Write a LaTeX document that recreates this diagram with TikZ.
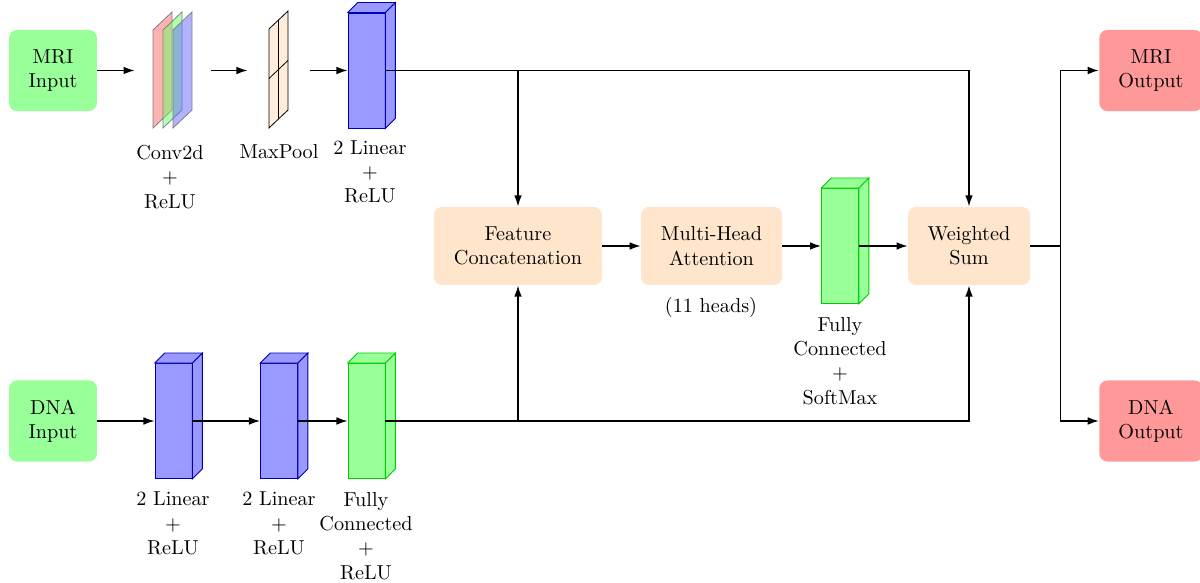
\documentclass[tikz,border=0pt]{standalone}
\usepackage{tikz}
\usetikzlibrary{arrows.meta,calc}

\tikzset{
  inbox/.style={rectangle, rounded corners=4pt, fill=green!40, align=center,
                minimum width=1.53cm, minimum height=1.41cm},
  outbox/.style={inbox, fill=red!40, minimum width=1.8cm},
  procbox/.style={rectangle, rounded corners=4pt, fill=orange!20, align=center,
                  minimum height=1.36cm},
  layer/.style={rectangle, inner sep=0pt, minimum width=0.643cm, minimum height=2cm},
  bluelayer/.style={layer, fill=blue!40, draw=blue!70!black},
  greenlayer/.style={layer, fill=green!40, draw=green!80!black},
  plane/.style={draw=gray, fill opacity=0.5},
  lbl/.style={align=center},
  arr/.style={line width=0.7pt, -{Latex[length=5.5pt,width=3.8pt]}}
}

% top and side faces of a layer block
\newcommand{\blockfaces}[3]{%
  \filldraw[fill=#2, draw=#3] (#1.north west) -- ([shift={(1,-1)}]#1.north west)
    -- ([shift={(1,-1)}]#1.north east) -- (#1.north east) -- cycle;
  \filldraw[fill=#2, draw=#3] (#1.north east) -- ([shift={(1,-1)}]#1.north east)
    -- ([shift={(1,-1)}]#1.south east) -- (#1.south east) -- cycle;
}

\begin{document}
\begin{tikzpicture}[x=0.1739cm, y=-0.1739cm]
  \useasboundingbox (0,0) rectangle (120,58.3);

  % inputs
  \node[inbox] (mriin) at (5.3,7.05) {MRI\\Input};
  \node[inbox] (dnain) at (5.3,42.1) {DNA\\Input};

  % MRI branch
  \node[minimum width=1.32cm, inner sep=0pt] (conv) at (17.3,7.05) {};
  \foreach \c/\dx in {red/0, green/1, blue/2}
    \filldraw[plane, fill=\c!60] (15.3+\dx,12.8) -- ++(0,-9.8) -- ++(1.9,-1.8) -- ++(0,9.8) -- cycle;
  \node[lbl] (convlbl) at (17.0,17.7) {Conv2d\\+\\ReLU};

  \node[minimum width=1.08cm, inner sep=0pt] (pool) at (27.9,7.05) {};
  \filldraw[fill=orange!15, draw=black] (26.9,12.8) -- ++(0,-9.9) -- ++(1.9,-1.8) -- ++(0,9.9) -- cycle;
  \draw (27.85,2.05) -- (27.85,11.85);
  \draw (26.9,7.85) -- (28.8,6.05);
  \node[lbl] (poollbl) at (27.9,15.2) {MaxPool};

  \node[bluelayer] (lin1) at (36.65,7.05) {};
  \blockfaces{lin1}{blue!40}{blue!70!black}
  \node[lbl] (lin1lbl) at (37.0,17.2) {2 Linear\\+\\ReLU};

  % DNA branch
  \node[bluelayer] (lin2) at (17.35,42.1) {};
  \blockfaces{lin2}{blue!40}{blue!70!black}
  \node[lbl] (lin2lbl) at (17.3,52.35) {2 Linear\\+\\ReLU};

  \node[bluelayer] (lin3) at (27.9,42.1) {};
  \blockfaces{lin3}{blue!40}{blue!70!black}
  \node[lbl] (lin3lbl) at (27.9,52.35) {2 Linear\\+\\ReLU};

  \node[greenlayer] (fc1) at (36.65,42.1) {};
  \blockfaces{fc1}{green!40}{green!80!black}
  \node[lbl] (fc1lbl) at (36.6,53.6) {Fully\\Connected\\+\\ReLU};

  % fusion
  \node[procbox, minimum width=2.92cm] (concat) at (51.8,24.6) {Feature\\Concatenation};
  \node[procbox, minimum width=2.45cm] (mha) at (71.15,24.6) {Multi-Head\\Attention};
  \node[lbl] (heads) at (71.1,30.7) {(11 heads)};

  \node[greenlayer] (fc2) at (84.0,24.6) {};
  \blockfaces{fc2}{green!40}{green!80!black}
  \node[lbl] (fc2lbl) at (84.0,36.1) {Fully\\Connected\\+\\SoftMax};

  \node[procbox, minimum width=2.12cm] (wsum) at (96.9,24.6) {Weighted\\Sum};

  % outputs
  \node[outbox] (mriout) at (115.1,7.05) {MRI\\Output};
  \node[outbox] (dnaout) at (115.1,42.1) {DNA\\Output};

  % connections
  \draw[arr] (mriin) -- (conv);
  \draw[arr] (conv) -- (pool);
  \draw[arr] (pool) -- (lin1);
  \draw[arr] (lin1.east) -- (wsum.north |- lin1.east) -- (wsum.north);
  \draw[arr] (concat.north |- lin1.east) -- (concat.north);

  \draw[arr] (dnain) -- (lin2);
  \draw[arr] (lin2.east) -- (lin3);
  \draw[arr] (lin3.east) -- (fc1);
  \draw[arr] (fc1.east) -- (wsum.south |- fc1.east) -- (wsum.south);
  \draw[arr] (concat.south |- fc1.east) -- (concat.south);

  \draw[arr] (concat) -- (mha);
  \draw[arr] (mha) -- (fc2);
  \draw[arr] (fc2.east) -- (wsum);

  \draw[line width=0.7pt] (wsum.east) -- ++(3,0) coordinate (split);
  \draw[arr] (split) |- (mriout);
  \draw[arr] (split) |- (dnaout);
\end{tikzpicture}
\end{document}
